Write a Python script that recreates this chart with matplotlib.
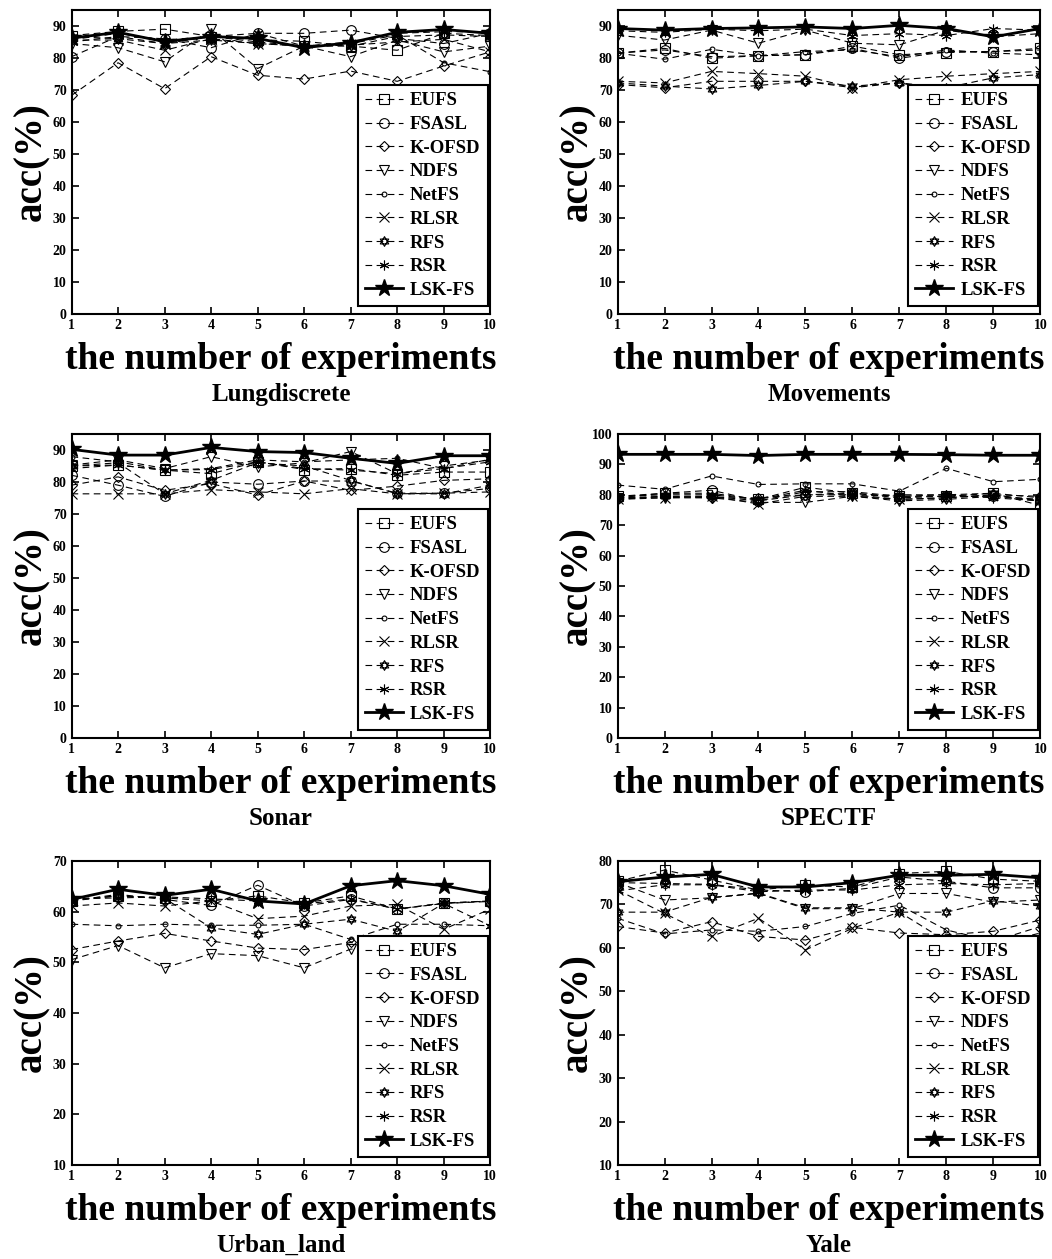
import matplotlib
matplotlib.use('Agg')
import matplotlib.pyplot as plt
import numpy as np
from matplotlib.path import Path

plt.rcParams['font.family'] = ['Liberation Serif', 'DejaVu Serif']
plt.rcParams['font.weight'] = 'bold'

runs = [1, 2, 3, 4, 5, 6, 7, 8, 9, 10]
methods = ['EUFS', 'FSASL', 'K-OFSD', 'NDFS', 'NetFS', 'RLSR', 'RFS', 'RSR', 'LSK-FS']

# accuracy (%) per run, rows follow the order of `methods`
lung = [
    [87.0, 88.3, 89.0, 86.7, 85.7, 85.2, 83.7, 82.4, 87.7, 87.0],
    [80.4, 86.7, 86.0, 83.2, 87.7, 87.7, 88.7, 86.1, 84.5, 87.7],
    [68.3, 78.5, 70.4, 80.4, 74.6, 73.4, 75.9, 72.7, 77.5, 81.9],
    [84.5, 83.2, 78.8, 88.9, 76.7, 83.7, 80.4, 85.6, 81.9, 83.7],
    [85.0, 86.7, 84.5, 86.7, 85.0, 83.7, 84.5, 87.2, 78.5, 75.7],
    [85.6, 85.6, 82.4, 86.0, 84.5, 83.7, 84.0, 85.0, 85.8, 81.9],
    [86.7, 86.0, 84.5, 85.6, 84.5, 83.7, 83.7, 86.7, 87.2, 86.7],
    [85.7, 87.7, 85.6, 86.7, 87.7, 83.7, 85.0, 87.7, 88.2, 88.2],
    [86.2, 88.0, 85.1, 86.7, 86.1, 83.2, 84.8, 88.0, 88.9, 87.7],
]
movements = [
    [81.5, 83.0, 79.9, 80.7, 81.0, 83.7, 81.0, 81.7, 82.0, 83.0],
    [81.5, 82.5, 80.4, 80.7, 81.0, 83.0, 79.9, 82.0, 82.0, 82.5],
    [71.7, 70.7, 72.7, 72.7, 72.7, 70.7, 72.2, 69.7, 69.7, 70.0],
    [87.1, 85.6, 88.7, 84.6, 88.7, 84.6, 84.1, 88.7, 86.6, 87.6],
    [81.5, 79.6, 82.7, 80.7, 82.0, 82.5, 80.4, 82.5, 81.5, 81.0],
    [72.7, 72.2, 75.8, 75.1, 74.3, 70.7, 73.2, 74.3, 75.1, 75.8],
    [72.2, 71.2, 70.3, 71.4, 72.7, 71.2, 72.2, 70.7, 73.8, 74.8],
    [88.5, 88.0, 89.0, 88.5, 89.0, 87.0, 87.6, 87.0, 89.2, 88.7],
    [89.2, 88.7, 89.2, 89.4, 89.7, 89.2, 90.2, 89.2, 86.6, 89.2],
]
sonar = [
    [85.0, 85.3, 83.7, 82.6, 86.3, 83.9, 84.2, 82.1, 83.1, 83.1],
    [82.1, 79.0, 75.5, 80.0, 79.3, 80.3, 80.3, 76.5, 76.5, 78.0],
    [79.0, 81.6, 77.4, 79.5, 75.9, 80.3, 77.4, 78.7, 80.5, 81.0],
    [85.3, 86.9, 84.2, 87.9, 84.7, 86.0, 89.5, 82.6, 85.0, 86.9],
    [87.9, 86.3, 83.7, 84.2, 86.9, 86.3, 86.9, 87.4, 84.2, 87.1],
    [76.3, 76.3, 76.3, 77.6, 76.9, 76.3, 77.9, 76.3, 76.5, 76.9],
    [85.0, 86.0, 76.3, 80.5, 86.0, 85.0, 80.5, 76.3, 76.3, 79.0],
    [84.2, 85.3, 83.7, 83.9, 86.3, 84.2, 83.7, 82.6, 84.2, 86.3],
    [90.2, 88.4, 88.4, 90.8, 89.5, 89.2, 87.4, 85.8, 88.2, 88.2],
]
spectf = [
    [79.5, 80.5, 80.5, 78.5, 82.5, 80.5, 79.5, 79.5, 80.5, 76.5],
    [79.0, 80.5, 81.5, 78.0, 80.0, 80.5, 79.0, 79.5, 79.5, 78.5],
    [78.5, 79.5, 79.0, 79.0, 80.0, 80.0, 78.5, 79.0, 80.0, 79.5],
    [79.0, 79.0, 79.0, 77.5, 77.5, 79.5, 78.0, 78.5, 79.5, 78.0],
    [83.2, 81.8, 86.2, 83.4, 83.6, 83.6, 81.2, 88.7, 84.3, 85.1],
    [78.5, 79.0, 79.5, 77.0, 79.5, 79.5, 78.5, 79.0, 80.0, 78.0],
    [79.0, 79.5, 79.5, 78.0, 81.0, 81.0, 79.5, 80.0, 80.5, 79.0],
    [79.5, 80.0, 80.0, 78.5, 81.5, 79.5, 80.0, 80.0, 79.0, 78.0],
    [93.3, 93.3, 93.3, 92.9, 93.3, 93.3, 93.3, 93.2, 93.0, 93.0],
]
urban = [
    [62.1, 63.1, 62.7, 62.1, 63.1, 61.7, 63.1, 60.5, 61.6, 62.0],
    [62.1, 63.4, 62.4, 61.2, 65.2, 61.1, 62.4, 60.5, 61.7, 62.1],
    [52.5, 54.2, 55.7, 54.2, 52.8, 52.5, 53.9, 52.7, 53.3, 53.2],
    [50.5, 53.3, 48.9, 51.7, 51.3, 48.9, 52.6, 52.5, 52.6, 53.3],
    [57.5, 57.2, 57.5, 57.3, 57.3, 57.5, 54.5, 57.5, 57.5, 57.2],
    [61.1, 61.7, 61.1, 62.1, 58.6, 59.1, 61.1, 61.4, 56.5, 60.5],
    [62.4, 63.1, 62.6, 56.8, 55.5, 57.5, 58.5, 56.1, 61.6, 62.1],
    [62.5, 62.7, 62.9, 62.5, 62.1, 61.5, 62.5, 60.5, 61.6, 57.2],
    [62.4, 64.4, 63.2, 64.4, 62.1, 61.5, 65.1, 66.1, 65.1, 63.4],
]
yale = [
    [75.3, 77.9, 75.6, 73.3, 74.4, 74.0, 77.1, 77.6, 75.8, 75.3],
    [75.0, 74.8, 74.6, 73.3, 72.9, 73.7, 76.3, 75.3, 73.8, 73.8],
    [64.9, 63.4, 66.0, 62.6, 61.8, 64.7, 63.4, 63.0, 63.8, 66.4],
    [75.0, 71.0, 71.5, 72.5, 69.0, 69.0, 72.5, 72.5, 70.5, 71.0],
    [66.8, 63.2, 64.1, 63.8, 64.9, 67.9, 69.8, 64.1, 61.5, 64.9],
    [73.3, 67.9, 62.6, 66.8, 59.5, 64.5, 68.2, 61.5, 60.8, 63.4],
    [68.2, 68.2, 71.6, 72.6, 69.2, 69.2, 68.2, 68.2, 70.8, 69.6],
    [73.1, 74.5, 74.5, 72.9, 73.3, 73.3, 74.5, 74.8, 74.5, 74.8],
    [75.2, 76.3, 76.9, 74.0, 74.0, 75.0, 76.7, 76.7, 76.9, 76.1],
]

datasets = [lung, movements, sonar, spectf, urban, yale]
names = ['Lungdiscrete', 'Movements', 'Sonar', 'SPECTF', 'Urban_land', 'Yale']
ylims = [(0, 95), (0, 95), (0, 95), (0, 100), (10, 70), (10, 80)]

# hexagram marker: two overlapping triangles
ang = np.deg2rad([90, 210, 330, 90])
ang2 = np.deg2rad([270, 30, 150, 270])
verts = list(zip(np.cos(ang), np.sin(ang))) + list(zip(np.cos(ang2), np.sin(ang2)))
codes = [Path.MOVETO, Path.LINETO, Path.LINETO, Path.CLOSEPOLY] * 2
hexagram = Path(verts, codes)

markers = ['s', 'o', 'D', 'v', '.', 'x', hexagram, (6, 2, 0), '*']

fig = plt.figure(figsize=(10.52, 12.59), dpi=100)
lefts = [0.068, 0.587]
widths = [0.398, 0.402]
bottoms = [0.7506, 0.4138, 0.0747]
height = 0.2415

for k, data in enumerate(datasets):
    r, c = divmod(k, 2)
    ax = fig.add_axes([lefts[c], bottoms[r], widths[c], height])
    for m, vals in enumerate(data):
        if methods[m] == 'LSK-FS':
            ax.plot(runs, vals, color='black', lw=2, marker='*', ms=13,
                    mfc='black', label=methods[m], zorder=5)
        else:
            ms = 7
            if markers[m] == 'D':
                ms = 5.5
            ax.plot(runs, vals, color='black', lw=0.8, ls=(0, (6, 4)),
                    marker=markers[m], ms=ms, mfc='none', mec='black', mew=0.8,
                    label=methods[m])
    ax.set_xlim(1, 10)
    ax.set_ylim(*ylims[k])
    ax.set_xticks(runs)
    lo, hi = ylims[k]
    ax.set_yticks(np.arange(lo, min(hi, 100) + 1, 10))
    ax.tick_params(direction='in', top=True, right=True, labelsize=10, width=1.2, length=5)
    for lab in ax.get_xticklabels() + ax.get_yticklabels():
        lab.set_fontweight('bold')
    for sp in ax.spines.values():
        sp.set_linewidth(1.5)
    ax.set_xlabel('the number of experiments', fontsize=27, fontweight='bold', labelpad=7)
    ax.set_ylabel('acc(%)', fontsize=28, fontweight='bold')
    ax.yaxis.set_label_coords(-0.05, 0.5)
    ax.text(0.5, -0.265, names[k], transform=ax.transAxes, ha='center', va='center',
            fontsize=18, fontweight='bold')
    leg = ax.legend(loc='lower right', bbox_to_anchor=(0.995, 0.025),
                    handlelength=2.0, handletextpad=0.4, labelspacing=0.35,
                    borderpad=0.4, borderaxespad=0.0,
                    fancybox=False, edgecolor='black', framealpha=1,
                    prop={'weight': 'bold', 'size': 13.5})
    leg.get_frame().set_linewidth(1.5)

fig.savefig('out.png', dpi=100)
